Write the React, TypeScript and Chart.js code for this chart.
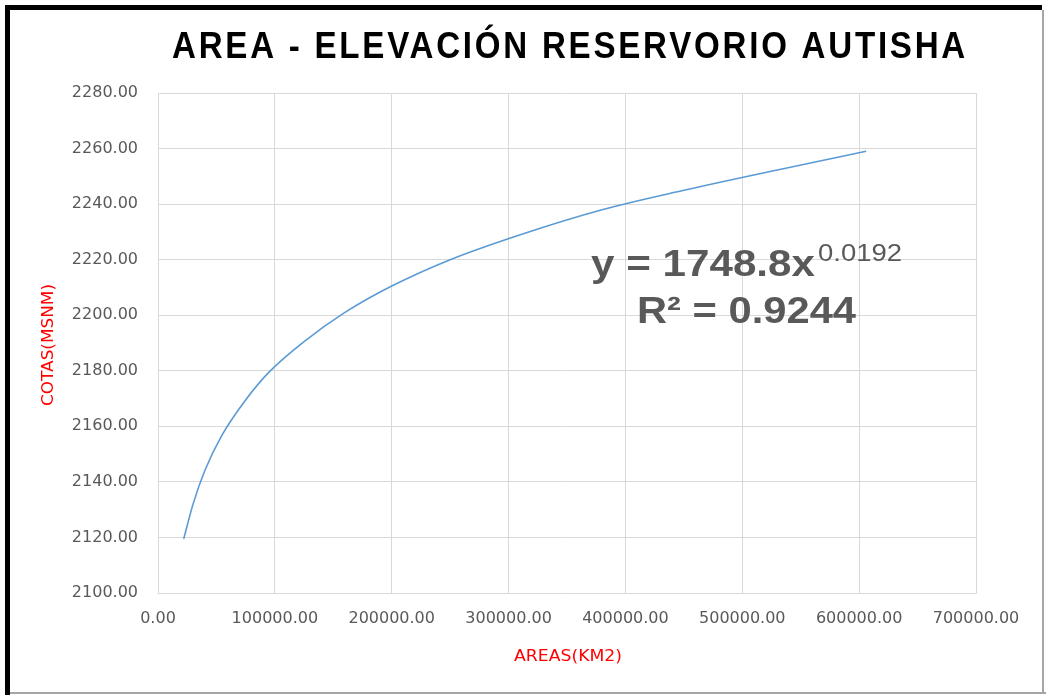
import React, { useEffect, useRef } from "react";
import { Chart, registerables } from "chart.js";

Chart.register(...registerables);

const TITLE = "AREA - ELEVACIÓN RESERVORIO AUTISHA";
const X_TITLE = "AREAS(KM2)";
const Y_TITLE = "COTAS(MSNM)";
const EQ_MAIN = "y = 1748.8x";
const EQ_EXP = "0.0192";
const EQ_R2 = "R² = 0.9244";

const areas = [22000, 30000, 40000, 55000, 75000, 95000, 125000, 160000, 200000, 250000, 310000, 380000, 450000, 530000, 606000];
const cotas = [2119.5, 2132, 2144, 2157, 2169.5, 2179.5, 2190.5, 2201, 2210.5, 2220, 2229, 2238, 2245, 2252.3, 2259];

const X_MIN = 0;
const X_MAX = 700000;
const X_STEP = 100000;
const Y_MIN = 2100;
const Y_MAX = 2280;
const Y_STEP = 20;

function drawFitted(ctx: CanvasRenderingContext2D, text: string, x: number, baseline: number, width: number, font: string, color: string, align: "left" | "center" = "left", spacing = 0) {
  ctx.save();
  ctx.font = font;
  ctx.fillStyle = color;
  ctx.textBaseline = "alphabetic";
  ctx.textAlign = "left";
  (ctx as any).letterSpacing = spacing + "px";
  const w = ctx.measureText(text).width;
  const sx = width / w;
  const left = align === "center" ? x - width / 2 : x;
  ctx.translate(left, baseline);
  ctx.scale(sx, 1);
  ctx.fillText(text, 0, 0);
  ctx.restore();
}

const decorPlugin = {
  id: "decor",
  beforeDraw(chart: any) {
    const ctx = chart.ctx as CanvasRenderingContext2D;
    ctx.save();
    ctx.fillStyle = "#ffffff";
    ctx.fillRect(0, 0, chart.width, chart.height);
    ctx.restore();
  },
  afterDraw(chart: any) {
    const ctx = chart.ctx as CanvasRenderingContext2D;
    ctx.save();
    // frame
    ctx.fillStyle = "#000000";
    ctx.fillRect(5, 5, 1037, 5);
    ctx.fillRect(5, 5, 5, 690);
    ctx.fillStyle = "#a6a6a6";
    ctx.fillRect(10, 692, 1036, 2);
    ctx.fillRect(1042, 10, 2, 684);
    ctx.restore();

    // title
    drawFitted(ctx, TITLE, 172, 58, 796, "bold 36px 'Liberation Sans Narrow', 'Liberation Sans'", "#000000", "left", 3);

    // axis titles
    drawFitted(ctx, X_TITLE, 568, 661, 108, "16px 'DejaVu Sans'", "#ff0000", "center");
    ctx.save();
    ctx.translate(53, 345);
    ctx.rotate(-Math.PI / 2);
    drawFitted(ctx, Y_TITLE, 0, 0, 122, "16px 'DejaVu Sans'", "#ff0000", "center");
    ctx.restore();

    // trendline equation
    drawFitted(ctx, EQ_MAIN, 591, 276, 224, "bold 37px 'Liberation Sans'", "#595959");
    drawFitted(ctx, EQ_EXP, 818, 261, 84, "23px 'Liberation Sans'", "#595959");
    drawFitted(ctx, EQ_R2, 637, 323, 219, "bold 37px 'Liberation Sans'", "#595959");
  },
};

export default function App() {
  const ref = useRef<HTMLCanvasElement>(null);
  useEffect(() => {
    if (!ref.current) return;
    const chart = new Chart(ref.current, {
      type: "scatter",
      data: {
        datasets: [
          {
            data: areas.map((a, i) => ({ x: a, y: cotas[i] })),
            showLine: true,
            borderColor: "#5b9bd5",
            borderWidth: 1.6,
            pointRadius: 0,
            pointHoverRadius: 0,
            cubicInterpolationMode: "monotone",
            fill: false,
          },
        ],
      },
      options: {
        responsive: false,
        animation: false,
        layout: { padding: { top: 93, right: 70, left: 0, bottom: 0 } },
        plugins: { legend: { display: false }, title: { display: false }, tooltip: { enabled: false } },
        scales: {
          x: {
            type: "linear",
            min: X_MIN,
            max: X_MAX,
            afterFit: (s: any) => { s.height = 102; },
            ticks: {
              stepSize: X_STEP,
              padding: 16,
              color: "#595959",
              font: { family: "'DejaVu Sans'", size: 16 },
              callback: (v: any) => Number(v).toFixed(2),
              maxRotation: 0,
              autoSkip: false,
            },
            grid: { color: "#d9d9d9", lineWidth: 1, drawTicks: false },
            border: { color: "#d9d9d9" },
          },
          y: {
            type: "linear",
            min: Y_MIN,
            max: Y_MAX,
            afterFit: (s: any) => { s.width = 158; },
            ticks: {
              stepSize: Y_STEP,
              padding: 20,
              color: "#595959",
              font: { family: "'DejaVu Sans'", size: 16 },
              callback: (v: any) => Number(v).toFixed(2),
              autoSkip: false,
            },
            grid: { color: "#d9d9d9", lineWidth: 1, drawTicks: false },
            border: { color: "#d9d9d9" },
          },
        },
      },
      plugins: [decorPlugin],
    } as any);
    return () => chart.destroy();
  }, []);
  return (
    <div style={{ position: "fixed", left: 0, top: 0, width: 1046, height: 695, background: "#fff" }}>
      <canvas ref={ref} width={1046} height={695} style={{ display: "block" }} />
    </div>
  );
}
